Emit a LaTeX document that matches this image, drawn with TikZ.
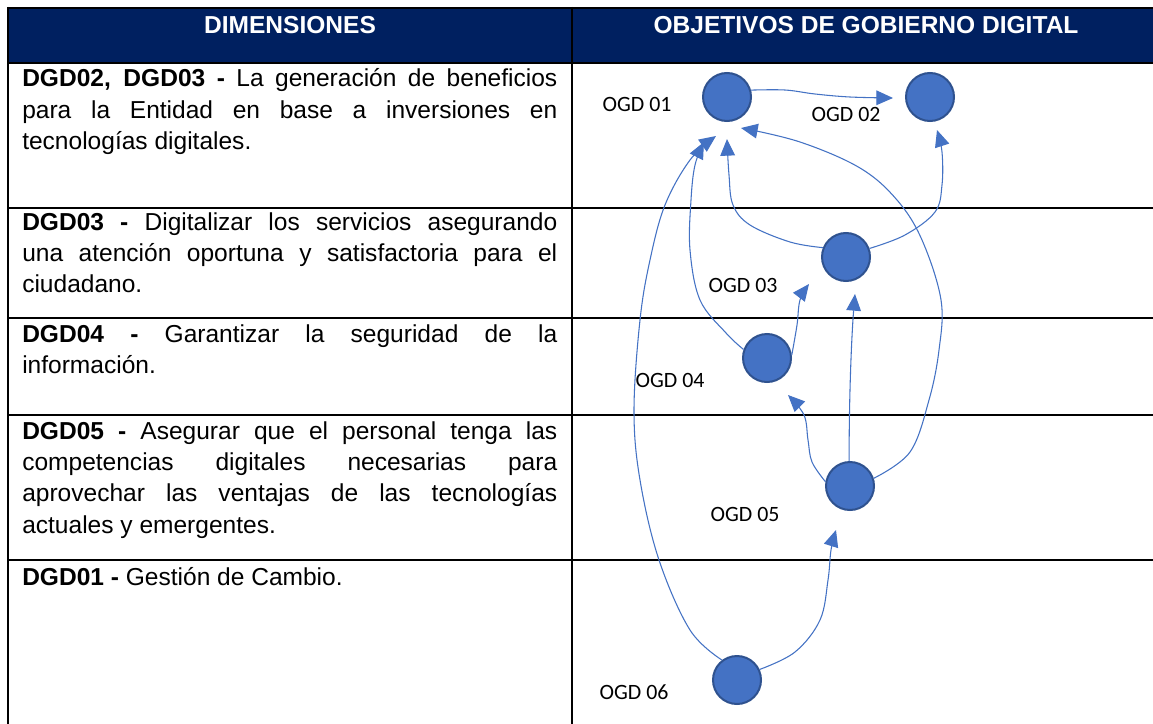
\documentclass[tikz,border=0pt]{standalone}
\usepackage{fontspec}
\setmainfont{Liberation Sans}
\newfontfamily\calib{Carlito}
\usetikzlibrary{arrows.meta}
\definecolor{navy}{HTML}{002060}
\definecolor{obl}{HTML}{4472C4}
\definecolor{obd}{HTML}{2F528F}
\newcommand{\jl}[1]{\makebox[\linewidth][s]{#1}}
\begin{document}
\begin{tikzpicture}[x=0.75pt,y=-0.75pt,
  grid/.style={line width=2pt, black},
  ogd/.style={circle, fill=obl, draw=obd, line width=1.5pt, minimum size=36pt, inner sep=0pt},
  lbl/.style={font=\calib\fontsize{16.4pt}{19pt}\selectfont, inner sep=0pt},
  hdr/.style={font=\bfseries\fontsize{18.4pt}{22pt}\selectfont, text=white, inner sep=0pt},
  cell/.style={anchor=base west, inner sep=0pt, font=\fontsize{18.4pt}{23.6pt}\selectfont},
  conn/.style={draw=obl, line width=0.8pt, -{Triangle[length=12.5pt,width=11pt]}}]
\useasboundingbox (0,0) rectangle (1153,724);
\fill[white] (0,0) rectangle (1153,724);
% header
\fill[navy] (8,8) rectangle (1153,63);
\node[hdr] (h1) at (290,25) {DIMENSIONES};
\node[hdr] (h2) at (866,25) {OBJETIVOS DE GOBIERNO DIGITAL};
% grid
\draw[grid] (8,8) -- (1153,8);
\draw[grid] (8,63) -- (1153,63);
\draw[grid] (8,208) -- (1153,208);
\draw[grid] (8,318) -- (1153,318);
\draw[grid] (8,415) -- (1153,415);
\draw[grid] (8,560) -- (1153,560);
\draw[grid] (8,7) -- (8,724);
\draw[grid] (572,7) -- (572,724);
% left column text
\node[cell] (r1) at (22,87) {\parbox[t]{401.25pt}{%
\jl{\textbf{DGD02, DGD03 -} La generación de beneficios}\\
\jl{para la Entidad en base a inversiones en}\\
tecnologías digitales.}};
\node[cell] (r2) at (22,230) {\parbox[t]{401.25pt}{%
\jl{\textbf{DGD03 -} Digitalizar los servicios asegurando}\\
\jl{una atención oportuna y satisfactoria para el}\\
ciudadano.}};
\node[cell] (r3) at (22,342) {\parbox[t]{401.25pt}{%
\jl{\textbf{DGD04 -} Garantizar la seguridad de la}\\
información.}};
\node[cell] (r4) at (22,439) {\parbox[t]{401.25pt}{%
\jl{\textbf{DGD05 -} Asegurar que el personal tenga las}\\
\jl{competencias digitales necesarias para}\\
\jl{aprovechar las ventajas de las tecnologías}\\
actuales y emergentes.}};
\node[cell] (r5) at (22,585) {\parbox[t]{401.25pt}{%
\textbf{DGD01 -} Gestión de Cambio.}};
% circles
\node[ogd] (o1) at (727,97) {};
\node[ogd] (o2) at (930,97) {};
\node[ogd] (o3) at (846,257) {};
\node[ogd] (o4) at (767,358) {};
\node[ogd] (o5) at (850,486) {};
\node[ogd] (o6) at (737,680) {};
% labels
\node[lbl] (l1) at (637,104) {OGD 01};
\node[lbl] (l2) at (846,114) {OGD 02};
\node[lbl] (l3) at (743,285) {OGD 03};
\node[lbl] (l4) at (670,380) {OGD 04};
\node[lbl] (l5) at (745,514) {OGD 05};
\node[lbl] (l6) at (634,692) {OGD 06};
% arrow tips
\coordinate (t12) at (893,98);
\coordinate (t61) at (716,136);
\coordinate (t41) at (704,142);
\coordinate (t31) at (727,139);
\coordinate (t51) at (741,128);
\coordinate (t32) at (937,130);
\coordinate (t43) at (809,284);
\coordinate (t53) at (855,294);
\coordinate (t54) at (788,395);
\coordinate (t65) at (836,530);
% connectors
\draw[conn] plot[smooth, tension=0.6] coordinates {(o1.16) (785,90) (815,94) (850,97) (t12)};
\draw[conn] plot[smooth, tension=0.6] coordinates {(o6.127) (690,630) (659,560) (640,480) (634,410) (640,320) (650,260) (665,205) (690,160) (t61)};
\draw[conn] plot[smooth, tension=0.6] coordinates {(o4.160) (726,333) (700,300) (690,250) (691,200) (695,165) (t41)};
\draw[conn] plot[smooth, tension=0.6] coordinates {(o3.158) (790,242) (750,225) (733,205) (729,175) (t31)};
\draw[conn] plot[smooth, tension=0.6] coordinates {(o3.20) (905,235) (935,212) (942,185) (942,152) (t32)};
\draw[conn] plot[smooth, tension=0.6] coordinates {(o5.18) (910,452) (929,400) (939,350) (941,300) (922,240) (897,200) (860,168) (800,142) (t51)};
\draw[conn] plot[smooth, tension=0.6] coordinates {(o4.7) (797,325) (800,300) (t43)};
\draw[conn] (o5.92) .. controls (849,390) and (852,330) .. (t53);
\draw[conn] plot[smooth, tension=0.6] coordinates {(o5.170) (812,462) (808,440) (804,415) (t54)};
\draw[conn] plot[smooth, tension=0.6] coordinates {(o6.25) (795,652) (820,620) (828,580) (831,550) (t65)};
\end{tikzpicture}
\end{document}
